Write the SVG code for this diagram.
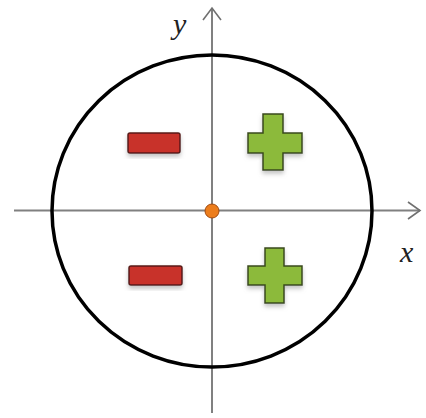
<svg xmlns="http://www.w3.org/2000/svg" width="426" height="418" viewBox="0 0 426 418">
<style>
.axis{stroke:#808080;stroke-width:2;fill:none}
.head{stroke:#707070;stroke-width:1.6;fill:none}
.minus{fill:#c8302c;stroke:#5a1a16;stroke-width:1.5}
.plus{fill:#8cba3a;stroke:#3a4a1c;stroke-width:1.5}
.lbl{font-family:"Liberation Serif",serif;font-style:italic;font-size:30px;fill:#222}
</style>
<defs>
<filter id="sh" x="-20%" y="-20%" width="140%" height="150%"><feDropShadow dx="0" dy="3" stdDeviation="2" flood-color="#888" flood-opacity="0.5"/></filter>
</defs>
<rect width="426" height="418" fill="#fff"/>
<g id="connectors">
<line class="axis" x1="14" y1="210.5" x2="420" y2="210.5"/>
<polyline class="head" points="408,202 420,210.5 408,219"/>
<line class="axis" x1="212" y1="8" x2="212" y2="413"/>
<polyline class="head" points="203,20 212,8 221,20"/>
</g>
<g id="circle"><ellipse cx="212" cy="211" rx="160" ry="156" fill="none" stroke="#000" stroke-width="3.5"/></g>
<g id="minus-top"><rect class="minus" x="128" y="133" width="52" height="20" rx="2" filter="url(#sh)"/></g>
<g id="plus-top"><path class="plus" d="M263,114h20v19h19v20h-19v17h-20v-17h-15v-20h15z" filter="url(#sh)"/></g>
<g id="minus-bottom"><rect class="minus" x="129" y="266" width="53" height="19" rx="2" filter="url(#sh)"/></g>
<g id="plus-bottom"><path class="plus" d="M265,248h19v18h18v19h-18v18h-19v-18h-17v-19h17z" filter="url(#sh)"/></g>
<g id="origin"><circle cx="212" cy="211" r="7" fill="#ec7d1c" stroke="#a04a10" stroke-width="1"/></g>
<text class="lbl" x="173" y="34">y</text>
<text class="lbl" x="400" y="262">x</text>
</svg>
